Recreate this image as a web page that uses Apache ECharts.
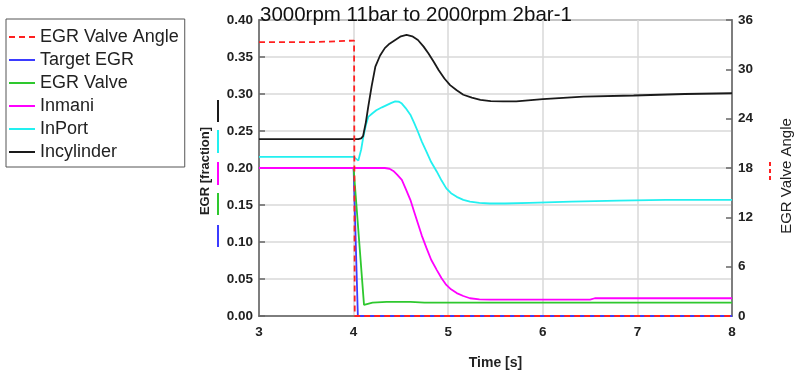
<!DOCTYPE html>
<html>
<head>
<meta charset="utf-8">
<script src="https://cdn.jsdelivr.net/npm/echarts@6/dist/echarts.min.js"></script>
<style>
html,body{margin:0;padding:0;background:#fff;}
#chart{width:797px;height:375px;}
</style>
</head>
<body>
<div id="chart"></div>
<script>
// ---- data ----
var titleText = '3000rpm 11bar to 2000rpm 2bar-1';
var seriesNames = ['EGR Valve Angle', 'Target EGR', 'EGR Valve', 'Inmani', 'InPort', 'Incylinder'];

var angleT = [3, 3.57, 3.57, 4.005, 4.012, 8];
var angleV = [33.3, 33.3, 33.5, 33.5, 0, 0];

var targetT = [3, 4.0, 4.045, 8];
var targetV = [0.2, 0.2, 0, 0];

var valveT = [3, 4.0, 4.11, 4.2, 4.35, 4.6, 4.75, 8];
var valveV = [0.2, 0.2, 0.015, 0.018, 0.019, 0.019, 0.018, 0.018];

var inmaniT = [3, 4.33, 4.38, 4.42, 4.46, 4.51, 4.55, 4.60, 4.64, 4.68, 4.72, 4.77, 4.82, 4.88, 4.93, 4.98, 5.03, 5.09, 5.16, 5.23, 5.33, 5.44, 5.86, 6.5, 6.55, 8];
var inmaniV = [0.2, 0.2, 0.199, 0.196, 0.191, 0.184, 0.172, 0.157, 0.141, 0.125, 0.109, 0.092, 0.076, 0.062, 0.051, 0.042, 0.036, 0.031, 0.027, 0.024, 0.0225, 0.022, 0.022, 0.022, 0.024, 0.024];

var inportT = [3, 4.0, 4.05, 4.08, 4.10, 4.13, 4.155, 4.2, 4.24, 4.30, 4.35, 4.40, 4.44, 4.48, 4.51, 4.55, 4.60, 4.64, 4.68, 4.72, 4.77, 4.82, 4.88, 4.93, 4.98, 5.03, 5.09, 5.16, 5.23, 5.33, 5.44, 5.6, 5.86, 6.3, 6.8, 7.3, 8];
var inportV = [0.215, 0.215, 0.21, 0.225, 0.24, 0.258, 0.269, 0.274, 0.278, 0.282, 0.285, 0.288, 0.29, 0.2895, 0.287, 0.281, 0.272, 0.261, 0.249, 0.236, 0.222, 0.208, 0.195, 0.183, 0.1725, 0.166, 0.161, 0.157, 0.1545, 0.153, 0.152, 0.152, 0.153, 0.1545, 0.156, 0.157, 0.157];

var incylT = [3, 4.05, 4.08, 4.10, 4.13, 4.155, 4.19, 4.23, 4.28, 4.33, 4.38, 4.44, 4.50, 4.56, 4.62, 4.68, 4.74, 4.79, 4.85, 4.90, 4.96, 5.02, 5.09, 5.16, 5.25, 5.34, 5.45, 5.58, 5.72, 6.0, 6.43, 6.96, 7.5, 8];
var incylV = [0.239, 0.239, 0.240, 0.243, 0.262, 0.283, 0.31, 0.337, 0.352, 0.362, 0.368, 0.373, 0.378, 0.380, 0.378, 0.373, 0.364, 0.355, 0.343, 0.332, 0.321, 0.312, 0.305, 0.299, 0.295, 0.292, 0.2905, 0.290, 0.290, 0.293, 0.2965, 0.298, 0.300, 0.301];

// ---- helpers ----
function pairs(t, v) { return t.map(function (x, i) { return [x, v[i]]; }); }

var colors = ['#ff2020', '#3b3bff', '#2ec82e', '#ff00ff', '#22f0f0', '#1a1a1a'];
var tickFont = { color: '#222', fontWeight: 'bold', fontSize: 13.5, fontFamily: 'Liberation Sans, Arial, sans-serif' };

var chart = echarts.init(document.getElementById('chart'), null, { renderer: 'canvas' });

function lineSeries(idx, data, yIdx, dash, z) {
  return {
    name: seriesNames[idx],
    type: 'line',
    yAxisIndex: yIdx,
    data: data,
    symbol: 'none',
    smooth: false,
    animation: false,
    z: z || 2,
    lineStyle: { color: colors[idx], width: 1.8, type: dash || 'solid' },
    itemStyle: { color: colors[idx] }
  };
}

var option = {
  animation: false,
  backgroundColor: '#fff',
  textStyle: { fontFamily: 'Liberation Sans, Arial, sans-serif' },
  title: {
    text: titleText,
    left: 260, top: 5, padding: 0,
    textStyle: { fontSize: 20.5, fontWeight: 'normal', color: '#111', fontFamily: 'Liberation Sans, Arial, sans-serif' }
  },
  legend: {
    orient: 'vertical',
    left: 6, top: 19,
    padding: [9, 6, 6, 2],
    itemGap: 5,
    itemWidth: 26, itemHeight: 12,
    borderColor: '#555', borderWidth: 1,
    backgroundColor: '#fff',
    data: seriesNames,
    itemStyle: { color: 'rgba(0,0,0,0)', borderColor: 'rgba(0,0,0,0)', borderWidth: 0 },
    textStyle: { fontSize: 18, color: '#222', fontFamily: 'Liberation Sans, Arial, sans-serif' }
  },
  grid: {
    left: 259, right: 65, top: 20, bottom: 59,
    containLabel: false, outerBoundsMode: 'none',
    show: true, borderColor: '#666', borderWidth: 1.5, backgroundColor: 'transparent'
  },
  xAxis: {
    type: 'value', min: 3, max: 8, interval: 1,
    name: 'Time [s]', nameLocation: 'middle', nameGap: 40,
    nameTextStyle: { color: '#222', fontWeight: 'bold', fontSize: 14 },
    axisLine: { lineStyle: { color: '#666', width: 1.5 } },
    axisTick: { show: false },
    axisLabel: Object.assign({ margin: 9 }, tickFont),
    splitLine: { show: true, lineStyle: { color: '#d8d8d8', width: 1.5 } }
  },
  yAxis: [{
    type: 'value', min: 0, max: 0.4, interval: 0.05,
    name: 'EGR [fraction]', nameLocation: 'middle', nameGap: 47,
    nameTextStyle: { color: '#222', fontWeight: 'bold', fontSize: 13, padding: [0, 6, 0, 0] },
    axisLine: { show: true, lineStyle: { color: '#666', width: 1.5 } },
    axisTick: { show: true, inside: true, length: 6, lineStyle: { color: '#666', width: 1.5 } },
    axisLabel: Object.assign({ margin: 6, formatter: function (v) { return v.toFixed(2); } }, tickFont),
    splitLine: { show: true, lineStyle: { color: '#d8d8d8', width: 1.5 } }
  }, {
    type: 'value', min: 0, max: 36, interval: 6, position: 'right',
    name: 'EGR Valve Angle', nameLocation: 'middle', nameGap: 47,
    nameTextStyle: { color: '#222', fontWeight: 'normal', fontSize: 15, padding: [0, 16, 0, 0] },
    axisLine: { show: true, lineStyle: { color: '#666', width: 1.5 } },
    axisTick: { show: true, inside: true, length: 6, lineStyle: { color: '#666', width: 1.5 } },
    axisLabel: Object.assign({ margin: 6 }, tickFont),
    splitLine: { show: false }
  }],
  graphic: [
    { type: 'line', shape: { x1: 218, y1: 100, x2: 218, y2: 122 }, style: { stroke: colors[5], lineWidth: 2 } },
    { type: 'line', shape: { x1: 218, y1: 130, x2: 218, y2: 153 }, style: { stroke: colors[4], lineWidth: 2 } },
    { type: 'line', shape: { x1: 218, y1: 162, x2: 218, y2: 185 }, style: { stroke: colors[3], lineWidth: 2 } },
    { type: 'line', shape: { x1: 218, y1: 193, x2: 218, y2: 215 }, style: { stroke: colors[2], lineWidth: 2 } },
    { type: 'line', shape: { x1: 218, y1: 225, x2: 218, y2: 247 }, style: { stroke: colors[1], lineWidth: 2 } },
    { type: 'line', shape: { x1: 770, y1: 162, x2: 770, y2: 183 }, style: { stroke: colors[0], lineWidth: 2, lineDash: [4, 3] } }
  ],
  series: [
    lineSeries(0, pairs(angleT, angleV), 1, [6, 4], 3),
    lineSeries(1, pairs(targetT, targetV), 0),
    lineSeries(2, pairs(valveT, valveV), 0),
    lineSeries(3, pairs(inmaniT, inmaniV), 0),
    lineSeries(4, pairs(inportT, inportV), 0),
    lineSeries(5, pairs(incylT, incylV), 0)
  ]
};
chart.setOption(option);
</script>
</body>
</html>
